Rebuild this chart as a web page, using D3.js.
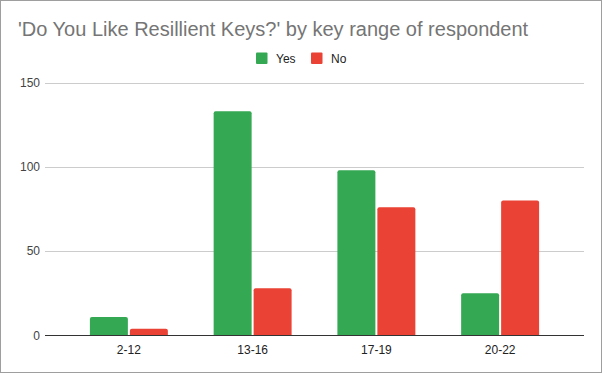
<!DOCTYPE html>
<html>
<head>
<meta charset="utf-8">
<script src="https://cdn.jsdelivr.net/npm/d3@7"></script>
<style>
  html, body { margin: 0; padding: 0; background: #fff; }
  svg { display: block; font-family: "Liberation Sans", Arial, sans-serif; }
</style>
</head>
<body>
<svg id="chart" width="602" height="373"></svg>
<script>
var categories = ["2-12", "13-16", "17-19", "20-22"];
var seriesNames = ["Yes", "No"];
var yesValues = [11, 133, 98, 25];
var noValues = [4, 28, 76, 80];
var yTicks = [0, 50, 100, 150];
var colors = ["#34a853", "#ea4335"];

var title = "'Do You Like Resillient Keys?' by key range of respondent";

var width = 602, height = 373;
var svg = d3.select("#chart");

// frame
svg.append("rect")
    .attr("x", 0.5).attr("y", 0.5)
    .attr("width", width - 1).attr("height", height - 1)
    .attr("fill", "#fff")
    .attr("stroke", "#9e9e9e");

var rows = categories.map(function(c, i) {
    return { cat: c, values: [yesValues[i], noValues[i]] };
});

var x0 = d3.scaleBand()
    .domain(categories)
    .range([67, 562])
    .paddingInner(0.37)
    .paddingOuter(0.185);

var x1 = d3.scaleBand()
    .domain(seriesNames)
    .range([0, x0.bandwidth()])
    .paddingInner(0.05);

var y = d3.scaleLinear()
    .domain([0, 150])
    .range([335.5, 82.5]);

var color = d3.scaleOrdinal().domain(seriesNames).range(colors);

// gridlines
svg.append("g")
    .selectAll("line")
    .data(yTicks.slice(1))
    .enter()
    .append("line")
    .attr("x1", 45).attr("x2", 584)
    .attr("y1", function(d) { return Math.round(y(d)) + 0.5; })
    .attr("y2", function(d) { return Math.round(y(d)) + 0.5; })
    .attr("stroke", "#cccccc")
    .attr("stroke-width", 1);

// y tick labels
svg.append("g")
    .selectAll("text")
    .data(yTicks)
    .enter()
    .append("text")
    .attr("x", 40)
    .attr("y", function(d) { return y(d) + 4; })
    .attr("text-anchor", "end")
    .attr("font-size", 12)
    .attr("fill", "#444")
    .text(function(d) { return d; });

// bars with slightly rounded tops
function barPath(x, w, top, bottom) {
    var r = Math.min(2, (bottom - top) / 2);
    return "M" + x + "," + bottom +
        "V" + (top + r) +
        "Q" + x + "," + top + " " + (x + r) + "," + top +
        "H" + (x + w - r) +
        "Q" + (x + w) + "," + top + " " + (x + w) + "," + (top + r) +
        "V" + bottom + "Z";
}

var groups = svg.append("g")
    .selectAll("g")
    .data(rows)
    .enter()
    .append("g")
    .attr("transform", function(d) { return "translate(" + x0(d.cat) + ",0)"; });

groups.selectAll("path")
    .data(function(d) {
        return d.values.map(function(v, i) { return { key: seriesNames[i], value: v }; });
    })
    .enter()
    .append("path")
    .attr("d", function(d) {
        return barPath(x1(d.key), x1.bandwidth(), y(d.value), y(0));
    })
    .attr("fill", function(d) { return color(d.key); });

// baseline
svg.append("line")
    .attr("x1", 45).attr("x2", 584)
    .attr("y1", 335.5).attr("y2", 335.5)
    .attr("stroke", "#333")
    .attr("stroke-width", 1);

// x axis labels
var xAxis = d3.axisBottom(x0).tickSize(0).tickPadding(0);
var xg = svg.append("g")
    .attr("transform", "translate(0,345)")
    .call(xAxis);
xg.select(".domain").remove();
xg.selectAll("text")
    .attr("font-family", "Liberation Sans, Arial, sans-serif")
    .attr("font-size", 12)
    .attr("fill", "#222")
    .attr("dy", "0.71em");

// title
svg.append("text")
    .attr("x", 18)
    .attr("y", 36)
    .attr("font-size", 20)
    .attr("fill", "#757575")
    .text(title);

// legend
var legend = svg.append("g")
    .selectAll("g")
    .data(seriesNames)
    .enter()
    .append("g")
    .attr("transform", function(d, i) { return "translate(" + [256, 311][i] + ",52.5)"; });

legend.append("rect")
    .attr("width", 11.5).attr("height", 11.5)
    .attr("rx", 1)
    .attr("fill", function(d) { return color(d); });

legend.append("text")
    .attr("x", 20)
    .attr("y", 10)
    .attr("font-size", 12)
    .attr("fill", "#222")
    .text(function(d) { return d; });
</script>
</body>
</html>
